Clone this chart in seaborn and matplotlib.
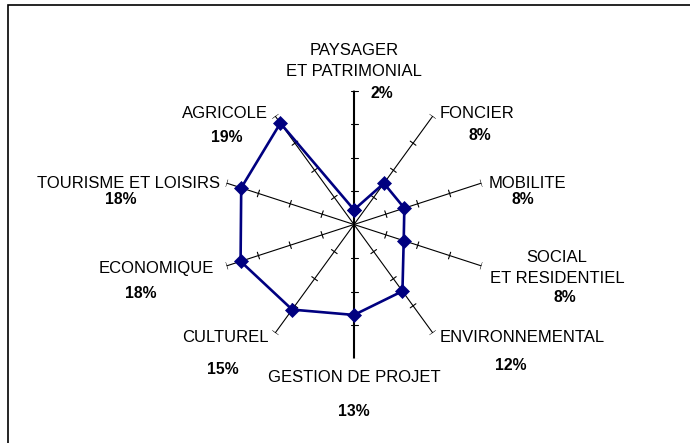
import numpy as np
import pandas as pd
import seaborn as sns
import matplotlib.pyplot as plt
from matplotlib.patches import Rectangle

# data (radar, 10 axes, scale 0-20)
categories = ['PAYSAGER\nET PATRIMONIAL', 'FONCIER', 'MOBILITE', 'SOCIAL\nET RESIDENTIEL',
              'ENVIRONNEMENTAL', 'GESTION DE PROJET', 'CULTUREL', 'ECONOMIQUE',
              'TOURISME ET LOISIRS', 'AGRICOLE']
values = [2.2, 7.6, 7.9, 7.8, 12.3, 13.5, 15.7, 17.8, 17.7, 18.7]
pct_labels = ['2%', '8%', '8%', '8%', '12%', '13%', '15%', '18%', '18%', '19%']
scale_ticks = [5, 10, 15, 20]

# label layout in pixels: (x, y, ha) for name and for percentage
name_pos = [(354, 61, 'center'), (440, 113, 'left'), (489, 183, 'left'), (557, 268, 'center'),
            (440, 338, 'left'), (354, 378, 'center'), (269, 338, 'right'), (214, 268, 'right'),
            (220, 183, 'right'), (268, 113, 'right')]
pct_pos = [(382, 93), (480, 136), (523, 200), (565, 298), (511, 366),
           (354, 412), (223, 370), (141, 293), (121, 200), (227, 137)]

W, H = 690, 443
navy = '#000080'

sns.set_style('white')
plt.rcParams['font.family'] = ['Liberation Sans', 'DejaVu Sans']

fig = plt.figure(figsize=(W / 100, H / 100), dpi=100)
cx, cy, rad = 354, 224.5, 134
ax = fig.add_axes([(cx - rad) / W, (H - cy - rad) / H, 2 * rad / W, 2 * rad / H], projection='polar')
ax.set_theta_zero_location('N')
ax.set_theta_direction(-1)
ax.set_axis_off()

n = len(categories)
angles = np.arange(n) * 2 * np.pi / n

# spokes with small cross ticks every 5 units
half = 3.5 / (rad / 20)
for i, th in enumerate(angles):
    lw = 1.5 if i in (0, 5) else 0.8
    ax.plot([th, th], [0, 20], color='black', lw=lw, zorder=1)
    for r in scale_ticks:
        d = np.arctan(half / r)
        rr = np.hypot(r, half)
        ax.plot([th - d, th + d], [rr, rr], color='black', lw=0.8, zorder=1)

df = pd.DataFrame({'theta': np.append(angles, 2 * np.pi), 'value': values + values[:1]})
sns.lineplot(data=df, x='theta', y='value', ax=ax, sort=False, estimator=None,
             color=navy, lw=1.9, marker='D', markersize=7, markeredgecolor=navy,
             markeredgewidth=0.5, zorder=3)
ax.set_ylim(0, 20)

for name, (x, y, ha), p, (px, py) in zip(categories, name_pos, pct_labels, pct_pos):
    fig.text(x / W, 1 - y / H, name, ha=ha, va='center', fontsize=12,
             linespacing=1.5, color='black')
    fig.text(px / W, 1 - py / H, p, ha='center', va='center', fontsize=11.3,
             fontweight='bold', color='black')

fig.patches.append(Rectangle((8.3 / W, -0.1), 1.2, 1.1 - 5.3 / H, transform=fig.transFigure,
                             fill=False, edgecolor='black', lw=1.2))

fig.savefig('out.png', dpi=100)
